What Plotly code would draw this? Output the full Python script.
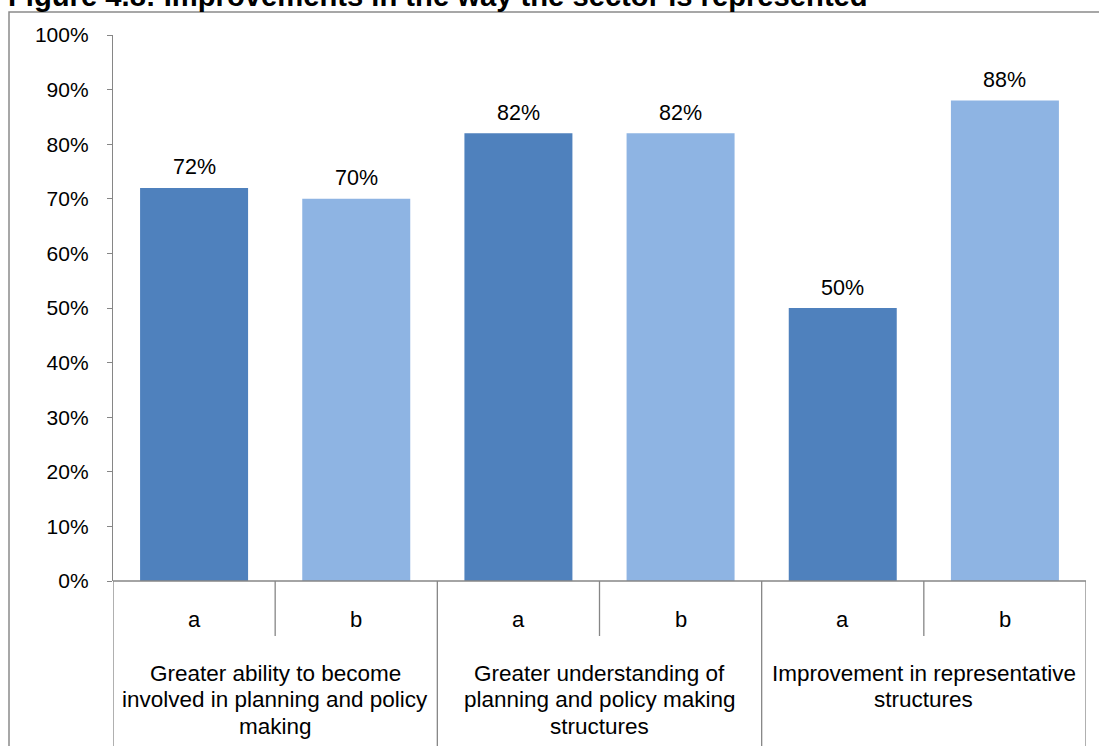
import plotly.graph_objects as go

# ---- data ----
groups = [
    ["Greater ability to become", "involved in planning and policy", "making"],
    ["Greater understanding of", "planning and policy making", "structures"],
    ["Improvement in representative", "structures"],
]
sub_labels = ["a", "b", "a", "b", "a", "b"]
values = [0.72, 0.70, 0.82, 0.82, 0.50, 0.88]
value_labels = ["72%", "70%", "82%", "82%", "50%", "88%"]
title_text = "Figure 4.8: Improvements in the way the sector is represented"

# ---- geometry (pixel helpers) ----
W, H = 1099, 746
ML, MR, MT, MB = 113, 13, 35, 165
PW, PH = W - ML - MR, H - MT - MB


def px(x):
    return (x - ML) / PW


def py(y):
    return (H - MB - y) / PH


FONT = "Liberation Sans, Arial, sans-serif"
GREY = "#868686"
DARK = "#4F81BD"
LIGHT = "#8EB4E3"

xs = list(range(len(values)))
colors = [DARK if s == "a" else LIGHT for s in sub_labels]

fig = go.Figure()
fig.add_trace(go.Bar(x=xs, y=values, marker=dict(color=colors, line=dict(width=0)),
                     width=0.666, hoverinfo="skip"))

annotations = []
# data labels
for x, v, t in zip(xs, values, value_labels):
    annotations.append(dict(x=x, y=v, xref="x", yref="y", text=t, showarrow=False,
                            yanchor="middle", yshift=20.5,
                            font=dict(family=FONT, size=21.5, color="black")))
# sub labels a / b
for x, s in zip(xs, sub_labels):
    annotations.append(dict(x=x, y=py(619), xref="x", yref="paper", text=s, showarrow=False,
                            yanchor="middle", font=dict(family=FONT, size=22, color="black")))
# group labels
n_sub = 2
for gi, lines in enumerate(groups):
    cx = gi * n_sub + (n_sub - 1) / 2
    for li, line in enumerate(lines):
        annotations.append(dict(x=cx, y=py(673 + li * 26.5), xref="x", yref="paper", text=line,
                                showarrow=False, yanchor="middle",
                                font=dict(family=FONT, size=22.5, color="black")))
# title
annotations.append(dict(x=px(6), y=py(-4), xref="paper", yref="paper", text="<b>" + title_text + "</b>",
                        showarrow=False, xanchor="left", yanchor="middle",
                        font=dict(family=FONT, size=29.2, color="black")))

shapes = []
# outer frame
shapes.append(dict(type="rect", xref="paper", yref="paper", x0=px(9), x1=px(1110), y0=py(760), y1=py(12),
                   line=dict(color="#8a8a8a", width=1.5), fillcolor="rgba(0,0,0,0)", layer="below"))
# dividers
for k in range(len(values) + 1):
    xb = k - 0.5
    long_line = (k % n_sub == 0)
    shapes.append(dict(type="line", xref="x", yref="paper", x0=xb, x1=xb,
                       y0=py(760 if long_line else 636), y1=0,
                       line=dict(color=GREY, width=1.3)))
# x axis baseline
shapes.append(dict(type="line", xref="x", yref="paper", x0=-0.5, x1=len(values) - 0.5, y0=0, y1=0,
                   line=dict(color=GREY, width=1.3)))

fig.update_layout(
    width=W, height=H,
    margin=dict(l=ML, r=MR, t=MT, b=MB),
    paper_bgcolor="white", plot_bgcolor="white",
    showlegend=False,
    xaxis=dict(range=[-0.5, len(values) - 0.5], showticklabels=False, showgrid=False,
               zeroline=False, showline=False, ticks="", fixedrange=True),
    yaxis=dict(range=[0, 1.0], dtick=0.1, tickformat=".0%", showgrid=False, zeroline=False,
               showline=True, linecolor=GREY, linewidth=1.3, ticks="outside", ticklen=5,
               tickcolor=GREY, tickwidth=1.3, ticklabelstandoff=14,
               tickfont=dict(family=FONT, size=21, color="black"), fixedrange=True),
    annotations=annotations,
    shapes=shapes,
)

fig.write_html("out.html", config={"displayModeBar": False},
               post_script="document.body.style.margin='0';document.body.style.overflow='hidden';")
